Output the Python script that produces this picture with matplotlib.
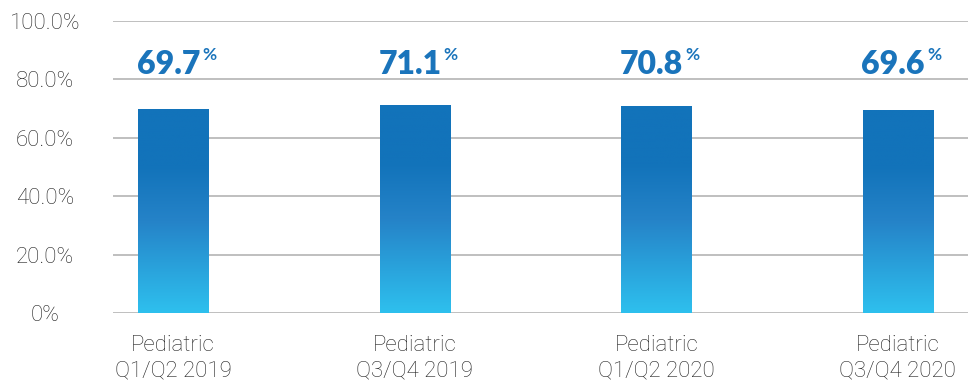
import matplotlib.pyplot as plt
import numpy as np
from matplotlib.colors import LinearSegmentedColormap
from matplotlib.patches import Rectangle

plt.rcParams['font.family'] = ['Lato', 'DejaVu Sans']

periods = ['Pediatric\nQ1/Q2 2019', 'Pediatric\nQ3/Q4 2019',
           'Pediatric\nQ1/Q2 2020', 'Pediatric\nQ3/Q4 2020']
rates = [69.7, 71.1, 70.8, 69.6]
yticks = [0, 20, 40, 60, 80, 100]
ytick_labels = ['0%', '20.0%', '40.0%', '60.0%', '80.0%', '100.0%']

# light blue at the base, deep blue over the upper part of each bar
bar_cmap = LinearSegmentedColormap.from_list(
    'bar', [(0.0, '#2ec0ee'), (0.45, '#2583c8'), (0.72, '#1273ba'), (1.0, '#1273ba')])

fig = plt.figure(figsize=(9.68, 3.87), dpi=100)
ax = fig.add_axes([0.1167, 0.1912, 0.8833, 0.7545])

x = np.arange(len(periods))
width = 0.29
grad = np.linspace(0, 1, 256).reshape(-1, 1)
for xi, r in zip(x, rates):
    rect = Rectangle((xi - width / 2, 0), width, r, facecolor='none', edgecolor='none')
    ax.add_patch(rect)
    im = ax.imshow(grad, cmap=bar_cmap, origin='lower', aspect='auto',
                   extent=(xi - width / 2, xi + width / 2, 0, r), zorder=2)
    im.set_clip_path(rect)
    val = ax.text(xi - 0.02, 82, '%.1f' % r, ha='center', va='baseline', fontsize=23,
                  fontweight='heavy', color='#1a74bb', zorder=3)
    # small "%" raised against the top right of the value
    ax.annotate('%', xy=(1, 1.08), xycoords=val, xytext=(1.5, 0),
                textcoords='offset points', ha='left', va='top', fontsize=12.5,
                fontweight='bold', color='#1a74bb')

ax.set_xlim(-0.249, 3.29)
ax.set_ylim(0, 100)
ax.set_yticks(yticks)
ax.set_yticklabels(ytick_labels)
ax.set_xticks(x)
ax.set_xticklabels(periods, linespacing=1.25)
ax.tick_params(axis='y', length=0, pad=49, labelsize=16, labelcolor='#222222')
ax.tick_params(axis='x', length=0, pad=16, labelsize=16, labelcolor='#222222')
for lbl in ax.get_yticklabels() + ax.get_xticklabels():
    lbl.set_fontfamily(['Roboto', 'DejaVu Sans'])
    lbl.set_fontweight('light')
for lbl in ax.get_yticklabels():
    lbl.set_horizontalalignment('center')

ax.grid(axis='y', color='#b4b4b4', linewidth=1.2)
ax.set_axisbelow(True)
for s in ax.spines.values():
    s.set_visible(False)

plt.savefig('out.png', dpi=100)
